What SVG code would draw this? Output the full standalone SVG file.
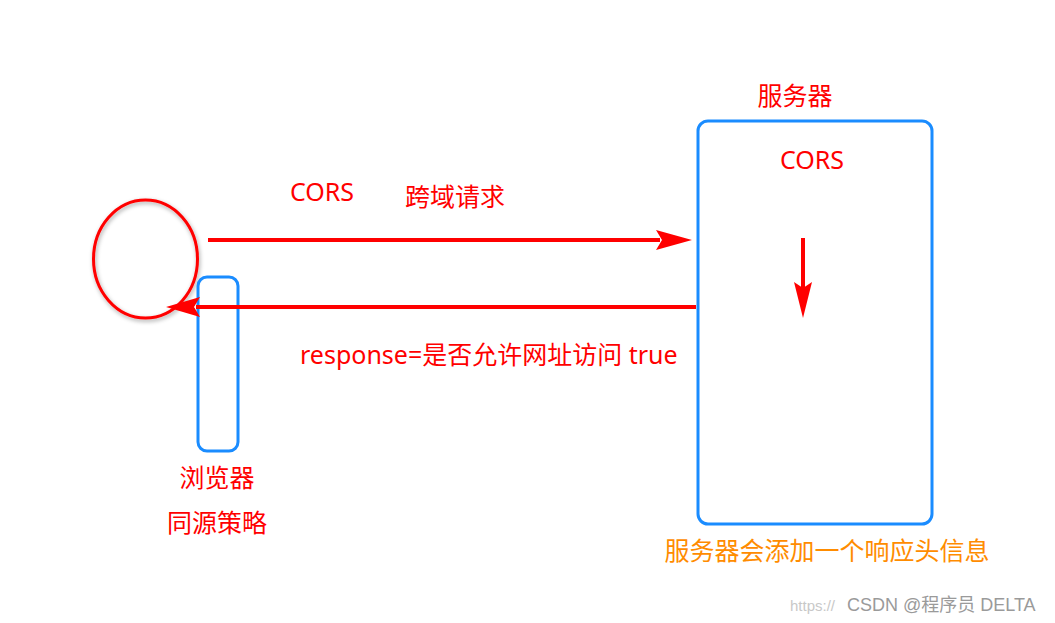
<svg xmlns="http://www.w3.org/2000/svg" width="1055" height="623" viewBox="0 0 1055 623">
<style>
.t{font-family:"Noto Sans","Noto Sans CJK SC",sans-serif;font-size:25px;fill:#ff0000}
.o{fill:#ff8c00}
.blue{fill:none;stroke:#1a8cff;stroke-width:3}
.line{stroke:#ff0000;stroke-width:4;fill:none}
.head{fill:#ff0000}
.wm{font-family:"Liberation Sans","Noto Sans CJK SC",sans-serif;font-size:18px;fill:#9a9a9a}
</style>
<defs>
<filter id="sh" x="-30%" y="-30%" width="160%" height="160%">
<feGaussianBlur in="SourceAlpha" stdDeviation="2"/>
<feOffset dx="1" dy="2" result="b"/>
<feFlood flood-color="#000" flood-opacity="0.35"/>
<feComposite in2="b" operator="in"/>
<feMerge><feMergeNode/><feMergeNode in="SourceGraphic"/></feMerge>
</filter>
</defs>
<rect width="1055" height="623" fill="#fff"/>
<g id="browser-circle">
<ellipse cx="145.5" cy="259" rx="52" ry="59" fill="none" stroke="#ff0000" stroke-width="3" filter="url(#sh)"/>
</g>
<g id="browser">
<rect class="blue" x="198" y="277" width="40" height="174" rx="9"/>
<text class="t" x="217" y="487" text-anchor="middle">浏览器</text>
<text class="t" x="217" y="532" text-anchor="middle">同源策略</text>
</g>
<g id="server">
<rect class="blue" x="698" y="121" width="234" height="403" rx="10"/>
<text class="t" x="795" y="105" text-anchor="middle">服务器</text>
<text class="t" x="812" y="169" text-anchor="middle">CORS</text>
<text class="t o" x="827" y="560" text-anchor="middle">服务器会添加一个响应头信息</text>
</g>
<g id="connectors">
<line class="line" x1="208" y1="240" x2="660" y2="240"/>
<polygon class="head" points="692,240 656,230 662,240 656,250"/>
<line class="line" x1="696" y1="307" x2="196" y2="307"/>
<polygon class="head" points="166,307 200,297 194,307 200,317"/>
<line class="line" x1="803" y1="238" x2="803" y2="288"/>
<polygon class="head" points="803,318 794,282 803,288 812,282"/>
</g>
<g id="labels">
<text class="t" x="322" y="201" text-anchor="middle">CORS</text>
<text class="t" x="455" y="206" text-anchor="middle">跨域请求</text>
<text class="t" x="300" y="364">response=是否允许网址访问 true</text>
</g>
<text class="wm" x="790" y="611" style="font-size:15px;fill:#c8c8c8">https://</text>
<text class="wm" x="847" y="611">CSDN @程序员 DELTA</text>
</svg>
